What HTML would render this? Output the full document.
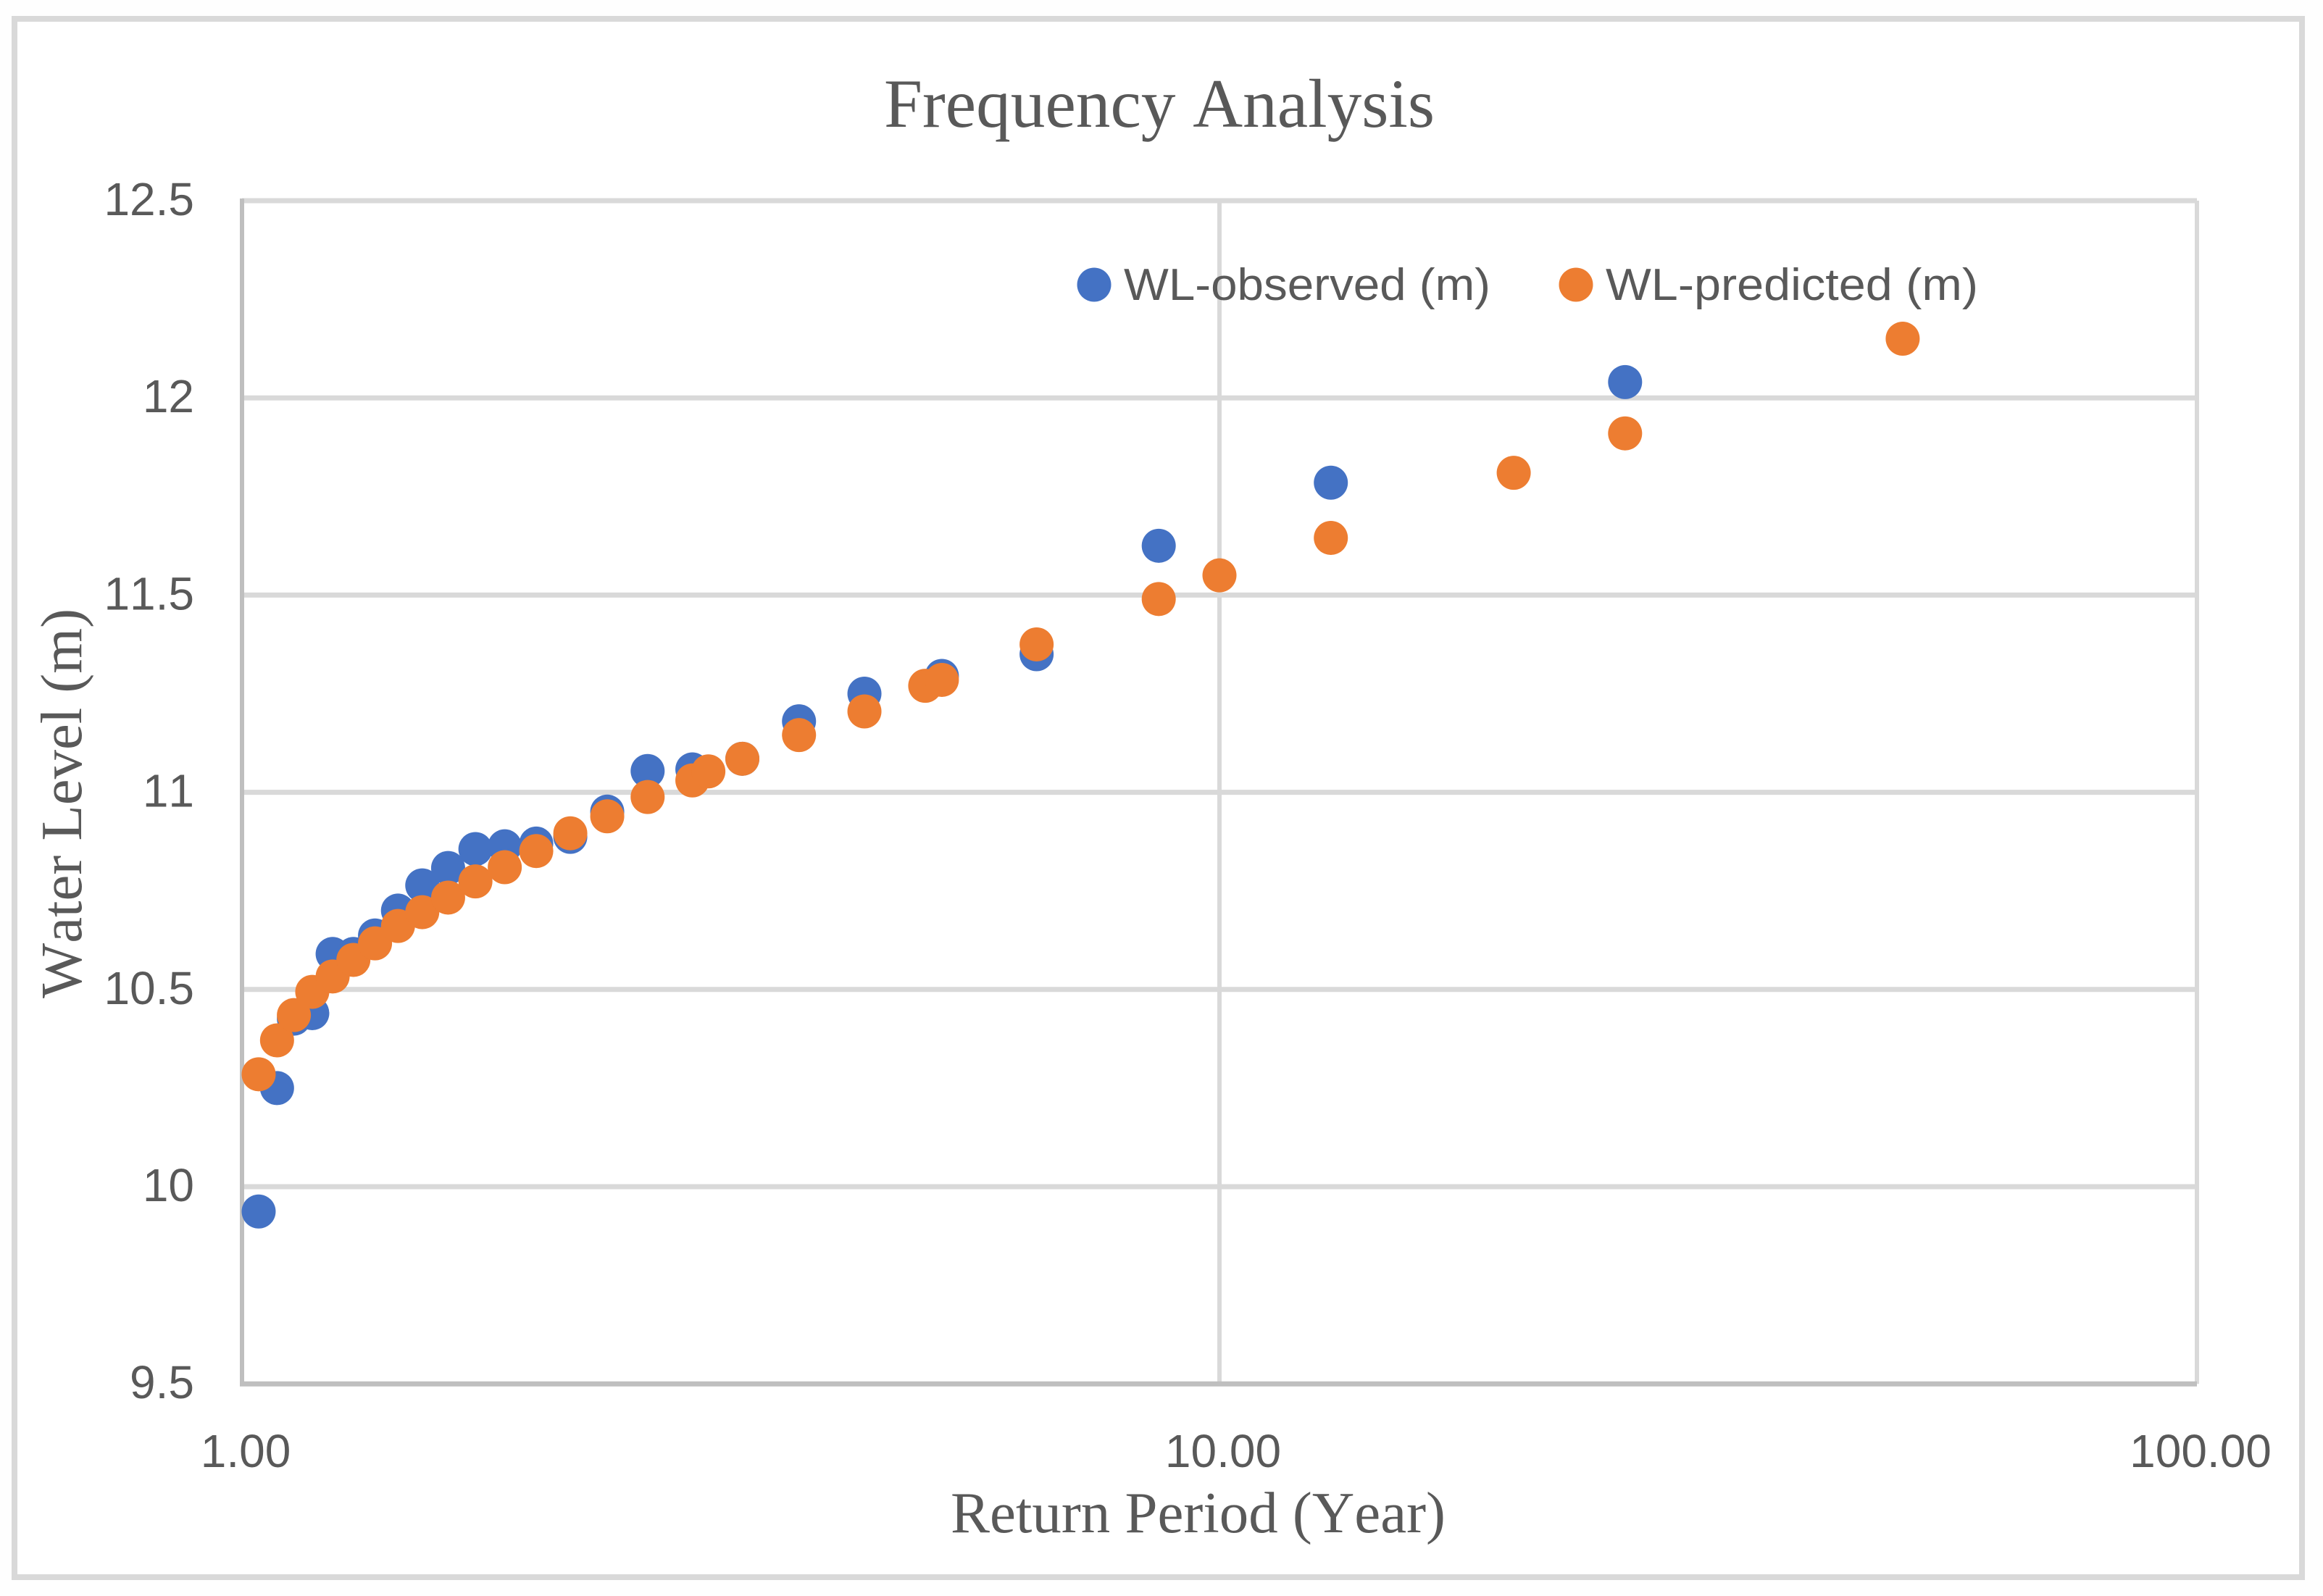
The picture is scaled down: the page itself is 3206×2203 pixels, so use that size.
<!DOCTYPE html>
<html lang="en">
<head>
<meta charset="utf-8">
<title>Frequency Analysis</title>
<style>
html,body{margin:0;padding:0;background:#fff;}
svg{display:block;}
text{fill:#595959;font-kerning:none;}
.sans{font-family:"Liberation Sans",sans-serif;}
.serif{font-family:"Liberation Serif",serif;}
</style>
</head>
<body>
<svg id="chart" width="3206" height="2203" viewBox="0 0 3206 2203" xmlns="http://www.w3.org/2000/svg">
  <rect x="0" y="0" width="3206" height="2203" fill="#fefefe"/>
  <rect x="20" y="26" width="3157" height="2151" fill="#fff" stroke="#d9d9d9" stroke-width="8"/>
  <g id="gridlines"></g>
  <g id="axes"></g>
  <g id="tick-labels"></g>
  <g id="series-observed"></g>
  <g id="series-predicted"></g>
  <text class="serif" x="1220" y="175" font-size="95" textLength="760" lengthAdjust="spacingAndGlyphs">Frequency Analysis</text>
  <text class="serif" x="1312" y="2115" font-size="80" textLength="683" lengthAdjust="spacingAndGlyphs">Return Period (Year)</text>
  <text class="serif" transform="translate(112,1378) rotate(-90)" x="0" y="0" font-size="80" textLength="538" lengthAdjust="spacingAndGlyphs">Water Level (m)</text>
  <g>
    <g>
      <circle cx="1510" cy="393" r="23.5" fill="#4472c4"/>
      <text class="sans" x="1551" y="414" font-size="62" textLength="506" lengthAdjust="spacingAndGlyphs">WL-observed (m)</text>
    </g>
    <g>
      <circle cx="2175" cy="393" r="23.5" fill="#ed7d31"/>
      <text class="sans" x="2216" y="414" font-size="62" textLength="514" lengthAdjust="spacingAndGlyphs">WL-predicted (m)</text>
    </g>
  </g>
</svg>
<script>
const yTickValues = [9.5, 10, 10.5, 11, 11.5, 12, 12.5];
const yTickLabels = ["9.5", "10", "10.5", "11", "11.5", "12", "12.5"];
const xTickValues = [1, 10, 100];
const xTickLabels = ["1.00", "10.00", "100.00"];

const observedPeriods = [1.04, 1.086, 1.13, 1.18, 1.238, 1.3, 1.368, 1.444, 1.529, 1.625, 1.733, 1.857, 2, 2.167, 2.364, 2.6, 2.889, 3.25, 3.714, 4.333, 5.2, 6.5, 8.667, 13, 26];
const observedLevels = [9.937, 10.25, 10.426, 10.44, 10.59, 10.59, 10.637, 10.70, 10.764, 10.808, 10.856, 10.863, 10.87, 10.887, 10.951, 11.054, 11.058, 11.085, 11.18, 11.25, 11.295, 11.35, 11.625, 11.785, 12.04];

const predictedPeriods = [1.04, 1.086, 1.13, 1.18, 1.238, 1.3, 1.368, 1.444, 1.529, 1.625, 1.733, 1.857, 2, 2.167, 2.364, 2.6, 2.889, 3, 3.25, 3.714, 4.333, 5, 5.2, 6.5, 8.667, 10, 13, 20, 26, 50];
const predictedLevels = [10.285, 10.371, 10.435, 10.494, 10.533, 10.575, 10.617, 10.661, 10.696, 10.733, 10.774, 10.81, 10.851, 10.896, 10.939, 10.988, 11.03, 11.053, 11.085, 11.145, 11.205, 11.27, 11.285, 11.375, 11.49, 11.55, 11.645, 11.81, 11.91, 12.15];

const SVG_NS = "http://www.w3.org/2000/svg";
function xScale(t) { return 334 + 1349 * Math.log10(t); }
function yScale(v) { return 277 + (12.5 - v) * 544.4; }

function makeLine(parent, x1, y1, x2, y2, color, width) {
  const el = document.createElementNS(SVG_NS, "line");
  el.setAttribute("x1", x1);
  el.setAttribute("y1", y1);
  el.setAttribute("x2", x2);
  el.setAttribute("y2", y2);
  el.setAttribute("stroke", color);
  el.setAttribute("stroke-width", width);
  parent.appendChild(el);
  return el;
}

const gridGroup = document.getElementById("gridlines");
const axesGroup = document.getElementById("axes");
const labelGroup = document.getElementById("tick-labels");
const xMin = xScale(xTickValues[0]);
const xMax = xScale(xTickValues[xTickValues.length - 1]);
const yBottom = yScale(yTickValues[0]);
const yTop = yScale(yTickValues[yTickValues.length - 1]);

yTickValues.forEach(function (v, i) {
  if (i > 0) {
    const grid = makeLine(gridGroup, xMin, yScale(v), xMax, yScale(v), "#d9d9d9", 7);
    
    
  }
  const label = document.createElementNS(SVG_NS, "text");
  
  
  label.setAttribute("class", "sans");
  label.setAttribute("x", 268);
  label.setAttribute("y", yScale(v) + 20);
  label.setAttribute("text-anchor", "end");
  label.setAttribute("font-size", 64);
  label.textContent = yTickLabels[i];
  labelGroup.appendChild(label);
});

xTickValues.forEach(function (t, i) {
  if (i > 0) {
    const grid = makeLine(gridGroup, xScale(t), yTop, xScale(t), yBottom, "#d9d9d9", 6);
    
    
  }
  const label = document.createElementNS(SVG_NS, "text");
  
  
  label.setAttribute("class", "sans");
  label.setAttribute("x", xScale(t) + 5);
  label.setAttribute("y", 2025);
  label.setAttribute("text-anchor", "middle");
  label.setAttribute("font-size", 64);
  label.textContent = xTickLabels[i];
  labelGroup.appendChild(label);
});

const yAxisLine = makeLine(axesGroup, xMin, yTop - 3, xMin, yBottom + 3, "#bfbfbf", 6);


const xAxisLine = makeLine(axesGroup, xMin - 3, yBottom, xMax, yBottom, "#bfbfbf", 7);



function drawPoints(groupId, periods, levels, color, pointName) {
  const group = document.getElementById(groupId);
  periods.forEach(function (t, i) {
    const dot = document.createElementNS(SVG_NS, "circle");
    
    
    dot.setAttribute("cx", xScale(t));
    dot.setAttribute("cy", yScale(levels[i]));
    dot.setAttribute("r", 23.5);
    dot.setAttribute("fill", color);
    group.appendChild(dot);
  });
}
drawPoints("series-observed", observedPeriods, observedLevels, "#4472c4", "observed-point");
drawPoints("series-predicted", predictedPeriods, predictedLevels, "#ed7d31", "predicted-point");
</script>
</body>
</html>
